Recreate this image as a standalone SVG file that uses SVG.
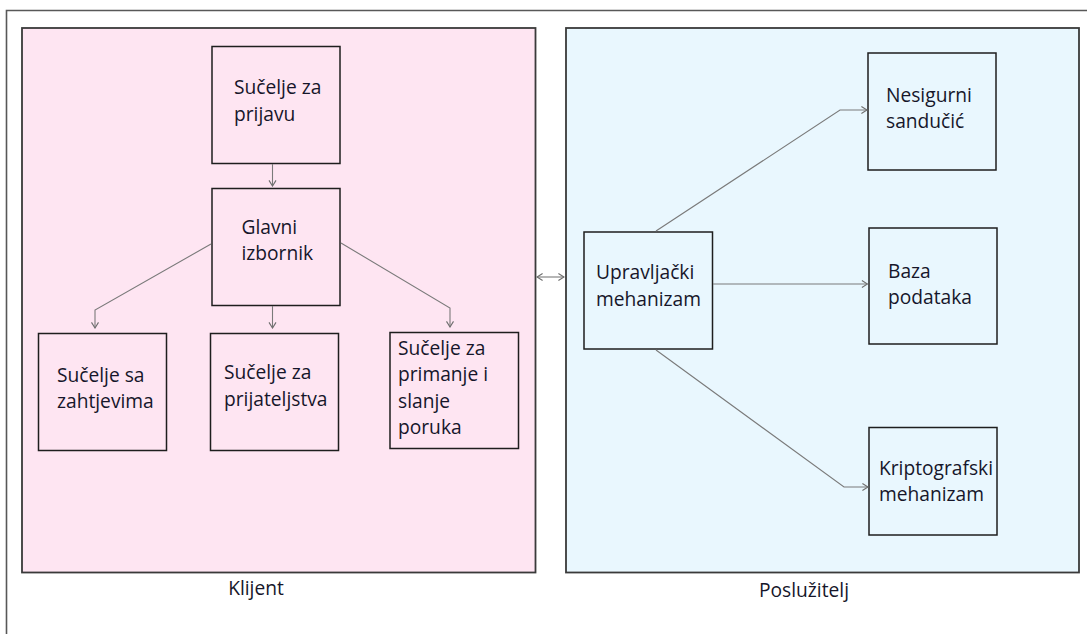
<svg xmlns="http://www.w3.org/2000/svg" width="1087" height="634" viewBox="0 0 1087 634">
  <style>
    .frame { fill: none; stroke: #585858; stroke-width: 1.6; }
    .client { fill: #fee5f2; stroke: #3a3a3a; stroke-width: 1.8; }
    .server { fill: #e9f7fe; stroke: #3a3a3a; stroke-width: 1.8; }
    .node-pink { fill: #fee5f2; stroke: #1e1e1e; stroke-width: 1.5; }
    .node-blue { fill: #e9f7fe; stroke: #1e1e1e; stroke-width: 1.5; }
    text { font-family: "Open Sans", "Liberation Sans", sans-serif; font-size: 19.2px; fill: #16162a; }
    .conn { fill: none; stroke: #7a7a7a; stroke-width: 1.1; }
  </style>
  <defs>
    <marker id="arrow" viewBox="0 0 10 12" refX="9" refY="6" markerWidth="7" markerHeight="9" markerUnits="userSpaceOnUse" orient="auto-start-reverse">
      <path d="M1,1 L9,6 L1,11" fill="none" stroke="#6e6e6e" stroke-width="1.6"/>
    </marker>
  </defs>

  <!-- outer page frame (top and left edges) -->
  <path class="frame" d="M6.5,634 V10.5 H1087"/>

  <!-- containers -->
  <g id="klijent">
    <rect class="client" x="22" y="28" width="513.5" height="544.5"/>
    <text x="256" y="595" text-anchor="middle">Klijent</text>
  </g>
  <g id="posluzitelj">
    <rect class="server" x="566" y="28" width="513" height="544.5"/>
    <text x="804" y="597" text-anchor="middle">Poslužitelj</text>
  </g>

  <!-- client nodes -->
  <g id="sucelje-prijava">
    <rect class="node-pink" x="212" y="46.5" width="128" height="117"/>
    <text x="234" y="94">Sučelje za</text>
    <text x="234" y="120.5">prijavu</text>
  </g>
  <g id="glavni-izbornik">
    <rect class="node-pink" x="212" y="188.5" width="128" height="117"/>
    <text x="241.5" y="233.5">Glavni</text>
    <text x="241.5" y="260">izbornik</text>
  </g>
  <g id="sucelje-zahtjevi">
    <rect class="node-pink" x="38.5" y="333.5" width="128" height="117"/>
    <text x="57" y="381.5">Sučelje sa</text>
    <text x="57" y="408">zahtjevima</text>
  </g>
  <g id="sucelje-prijateljstva">
    <rect class="node-pink" x="210.5" y="333.5" width="128" height="117"/>
    <text x="224" y="379">Sučelje za</text>
    <text x="224" y="406">prijateljstva</text>
  </g>
  <g id="sucelje-poruke">
    <rect class="node-pink" x="390" y="332.5" width="128.5" height="116"/>
    <text x="398" y="354.5">Sučelje za</text>
    <text x="398" y="381">primanje i</text>
    <text x="398" y="407.5">slanje</text>
    <text x="398" y="434">poruka</text>
  </g>

  <!-- server nodes -->
  <g id="upravljacki-mehanizam">
    <rect class="node-blue" x="584" y="232" width="128.5" height="117"/>
    <text x="596" y="279">Upravljački</text>
    <text x="596" y="305.5">mehanizam</text>
  </g>
  <g id="nesigurni-sanducic">
    <rect class="node-blue" x="868" y="53" width="128" height="117"/>
    <text x="886" y="101.5">Nesigurni</text>
    <text x="886" y="128">sandučić</text>
  </g>
  <g id="baza-podataka">
    <rect class="node-blue" x="869" y="228" width="128" height="116"/>
    <text x="888" y="277.5">Baza</text>
    <text x="888" y="304">podataka</text>
  </g>
  <g id="kriptografski-mehanizam">
    <rect class="node-blue" x="869" y="427.5" width="128" height="107.5"/>
    <text x="879" y="474.5">Kriptografski</text>
    <text x="879" y="501">mehanizam</text>
  </g>

  <!-- connectors -->
  <g id="connectors">
    <path class="conn" d="M272.5,164 V186" marker-end="url(#arrow)"/>
    <path class="conn" d="M211,244 L95,310 V328" marker-end="url(#arrow)"/>
    <path class="conn" d="M272.5,306 V328" marker-end="url(#arrow)"/>
    <path class="conn" d="M341,243 L450,308 V327" marker-end="url(#arrow)"/>
    <path class="conn" d="M537,277 H564" marker-start="url(#arrow)" marker-end="url(#arrow)"/>
    <path class="conn" d="M656,231 L840,110 H867" marker-end="url(#arrow)"/>
    <path class="conn" d="M713,284 H867.5" marker-end="url(#arrow)"/>
    <path class="conn" d="M656,350 L844,487 H868" marker-end="url(#arrow)"/>
  </g>
</svg>
